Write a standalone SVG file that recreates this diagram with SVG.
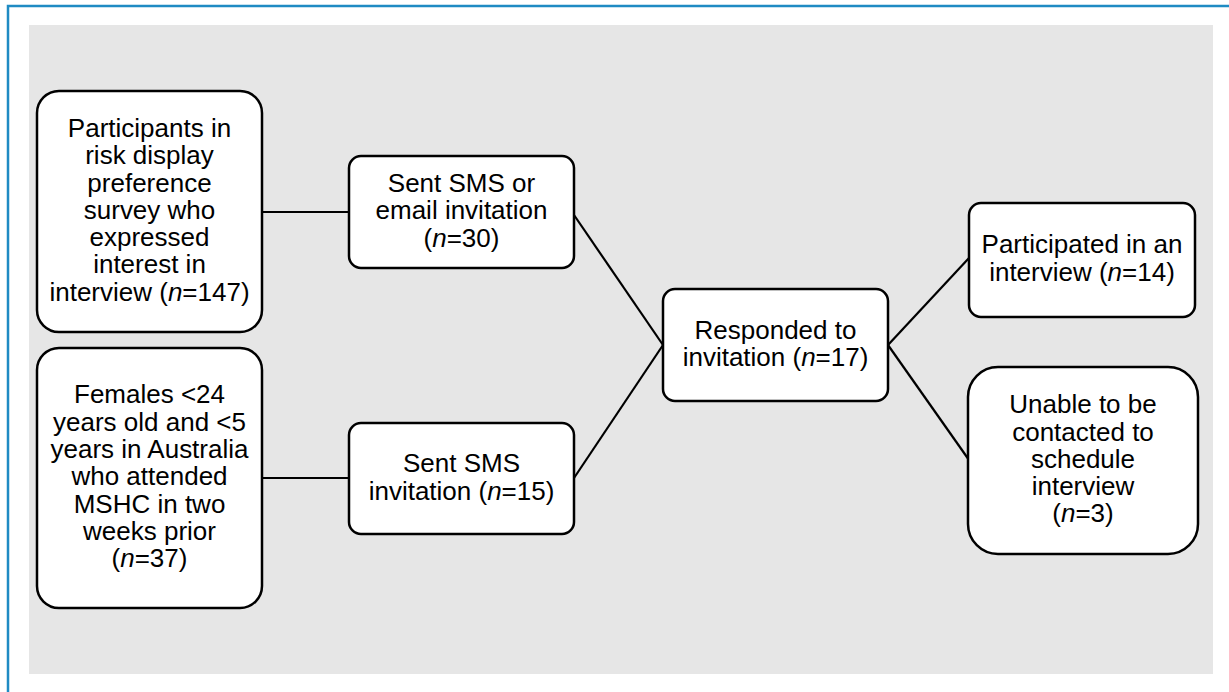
<svg xmlns="http://www.w3.org/2000/svg" width="1229" height="692" viewBox="0 0 1229 692">
<style>
.box{fill:#ffffff;stroke:#000000;stroke-width:2.5}
.conn{stroke:#000000;stroke-width:2.2;fill:none}
.t{font-family:"Liberation Sans",Arial,Helvetica,sans-serif;font-size:25px;fill:#000000;text-anchor:middle}
.i{font-style:italic}
</style>
<rect x="0" y="0" width="1229" height="692" fill="#ffffff"/>
<path d="M8,692 V6 H1229" fill="none" stroke="#1f8bc3" stroke-width="2.5"/>
<rect x="29" y="25" width="1184" height="649" fill="#e6e6e6"/>
<g id="connectors">
<line class="conn" x1="262" y1="212" x2="349" y2="212"/>
<line class="conn" x1="262" y1="478" x2="349" y2="478"/>
<line class="conn" x1="574" y1="215" x2="663" y2="345"/>
<line class="conn" x1="574" y1="478" x2="663" y2="345"/>
<line class="conn" x1="888" y1="345" x2="969" y2="258"/>
<line class="conn" x1="888" y1="345" x2="969" y2="460"/>
</g>
<g id="n1">
<rect class="box" x="37" y="91" width="225" height="241" rx="22"/>
<g transform="translate(149.5,0) scale(1.04,1)">
<text class="t" x="0" y="137">Participants in</text>
<text class="t" x="0" y="164.3">risk display</text>
<text class="t" x="0" y="191.6">preference</text>
<text class="t" x="0" y="218.9">survey who</text>
<text class="t" x="0" y="246.2">expressed</text>
<text class="t" x="0" y="273.5">interest in</text>
<text class="t" x="0" y="300.8">interview (<tspan class="i">n</tspan>=147)</text>
</g>
</g>
<g id="n2">
<rect class="box" x="37" y="348" width="225" height="260" rx="22"/>
<g transform="translate(149.5,0) scale(1.04,1)">
<text class="t" x="0" y="403.5">Females &lt;24</text>
<text class="t" x="0" y="430.8">years old and &lt;5</text>
<text class="t" x="0" y="458.1">years in Australia</text>
<text class="t" x="0" y="485.4">who attended</text>
<text class="t" x="0" y="512.7">MSHC in two</text>
<text class="t" x="0" y="540">weeks prior</text>
<text class="t" x="0" y="567.3">(<tspan class="i">n</tspan>=37)</text>
</g>
</g>
<g id="n3">
<rect class="box" x="349" y="156" width="225" height="112" rx="12"/>
<g transform="translate(461.5,0) scale(1.04,1)">
<text class="t" x="0" y="192">Sent SMS or</text>
<text class="t" x="0" y="219.3">email invitation</text>
<text class="t" x="0" y="246.6">(<tspan class="i">n</tspan>=30)</text>
</g>
</g>
<g id="n4">
<rect class="box" x="349" y="423" width="225" height="111" rx="12"/>
<g transform="translate(461.5,0) scale(1.04,1)">
<text class="t" x="0" y="472.5">Sent SMS</text>
<text class="t" x="0" y="499.8">invitation (<tspan class="i">n</tspan>=15)</text>
</g>
</g>
<g id="n5">
<rect class="box" x="663" y="289" width="225" height="112" rx="12"/>
<g transform="translate(775.5,0) scale(1.04,1)">
<text class="t" x="0" y="339">Responded to</text>
<text class="t" x="0" y="366.3">invitation (<tspan class="i">n</tspan>=17)</text>
</g>
</g>
<g id="n6">
<rect class="box" x="969" y="203" width="226" height="114" rx="12"/>
<g transform="translate(1082,0) scale(1.04,1)">
<text class="t" x="0" y="253.5">Participated in an</text>
<text class="t" x="0" y="280.8">interview (<tspan class="i">n</tspan>=14)</text>
</g>
</g>
<g id="n7">
<rect class="box" x="968" y="367" width="230" height="187" rx="30"/>
<g transform="translate(1083,0) scale(1.04,1)">
<text class="t" x="0" y="413.3">Unable to be</text>
<text class="t" x="0" y="440.6">contacted to</text>
<text class="t" x="0" y="467.9">schedule</text>
<text class="t" x="0" y="495.2">interview</text>
<text class="t" x="0" y="522.5">(<tspan class="i">n</tspan>=3)</text>
</g>
</g>
</svg>
